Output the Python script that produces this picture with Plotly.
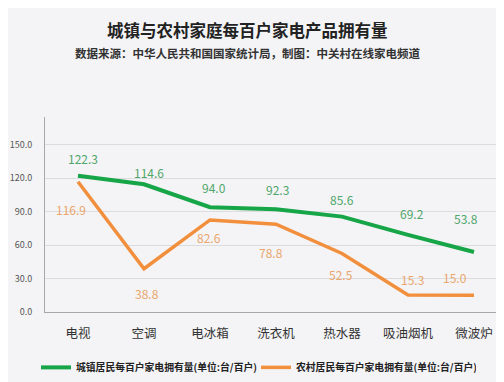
import plotly.graph_objects as go

categories = ["电视", "空调", "电冰箱", "洗衣机", "热水器", "吸油烟机", "微波炉"]
urban = [122.3, 114.6, 94.0, 92.3, 85.6, 69.2, 53.8]
rural = [116.9, 38.8, 82.6, 78.8, 52.5, 15.3, 15.0]
urban_name = "城镇居民每百户家电拥有量(单位:台/百户)"
rural_name = "农村居民每百户家电拥有量(单位:台/百户)"
y_ticks = [0, 30, 60, 90, 120, 150]

title = "城镇与农村家庭每百户家电产品拥有量"
subtitle = "数据来源：中华人民共和国国家统计局，制图：中关村在线家电频道"

# label offsets (style only)
urban_dx = [5, 5, 4, 1, 0, 4, -8]
urban_dy = [17, 12, 20, 20, 17, 21, 34]
rural_dx = [-7, 3, -1, -5, -1, 4, -19]
rural_dy = [-28, -25, -18, -28, -21, 15, 18]

GREEN = "#16a547"
ORANGE = "#f28f3d"
GREEN_TXT = "#4fa66a"
ORANGE_TXT = "#eaa66c"
FONT = "Noto Sans CJK SC"

OFF = 8  # page offset of the figure inside the browser window
PL, PT, PB, PW = 45 - OFF, 117 - OFF, 311.7 - OFF, 459
PH = PB - PT


def px_x(x):
    return (x - OFF - PL) / PW


def px_y(y):
    return (PB - (y - OFF)) / PH


fig = go.Figure()
fig.add_trace(go.Scatter(x=categories, y=urban, mode="lines", name=urban_name,
                         line=dict(color=GREEN, width=4)))
fig.add_trace(go.Scatter(x=categories, y=rural, mode="lines", name=rural_name,
                         line=dict(color=ORANGE, width=3.5)))

ann = []
for c, v, dx, dy in zip(categories, urban, urban_dx, urban_dy):
    ann.append(dict(x=c, y=v, text=f"{v:.1f}", showarrow=False, xshift=dx, yshift=dy,
                    font=dict(family=FONT, size=12, color=GREEN_TXT)))
for c, v, dx, dy in zip(categories, rural, rural_dx, rural_dy):
    ann.append(dict(x=c, y=v, text=f"{v:.1f}", showarrow=False, xshift=dx, yshift=dy,
                    font=dict(family=FONT, size=12, color=ORANGE_TXT)))
ann.append(dict(xref="paper", yref="paper", x=px_x(247), y=px_y(30),
                xanchor="center", yanchor="middle",
                text=f"<b>{title}</b>", showarrow=False,
                font=dict(family=FONT, size=16.5, color="#222222")))
ann.append(dict(xref="paper", yref="paper", x=px_x(247), y=px_y(53),
                xanchor="center", yanchor="middle",
                text=f"<b>{subtitle}</b>", showarrow=False,
                font=dict(family=FONT, size=11.5, color="#333333")))

fig.update_layout(
    width=504 - OFF, height=382 - OFF,
    margin=dict(l=PL, r=0, t=PT, b=382 - OFF - PB, autoexpand=False),
    paper_bgcolor="#f4f4f6", plot_bgcolor="#f4f4f6",
    font=dict(family=FONT),
    showlegend=True,
    legend=dict(orientation="h", x=px_x(36), xanchor="left",
                y=px_y(367), yanchor="middle",
                font=dict(family=FONT, size=9.8, color="#222222", weight="bold"),
                entrywidth=175, entrywidthmode="pixels",
                bgcolor="rgba(0,0,0,0)", itemclick=False),
    annotations=ann,
    xaxis=dict(range=[-0.5, -0.5 + PW / 66], showgrid=False, showline=True,
               linecolor="#a8a8a8", linewidth=1, ticks="", ticklabelstandoff=10,
               tickfont=dict(family=FONT, size=12.5, color="#333333"), fixedrange=True),
    yaxis=dict(range=[0, 175], tickvals=y_ticks, ticktext=[f"{t:.1f}" for t in y_ticks],
               showgrid=True, gridcolor="#dcdcdf", gridwidth=1, zeroline=False,
               showline=True, linecolor="#a8a8a8", linewidth=1, ticks="",
               ticklabelstandoff=10,
               tickfont=dict(family=FONT, size=9, color="#555555"), fixedrange=True),
)

fig.write_html("out.html")
